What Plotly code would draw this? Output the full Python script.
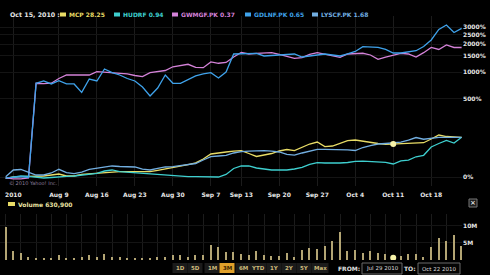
import pandas as pd
import plotly.graph_objects as go

W, H = 490, 275


def px(x):
    return x / W


def py(y):
    return 1 - y / H


# ---------------- data ----------------
holidays = ["2010-09-06"]
days = [d.strftime("%Y-%m-%d") for d in pd.bdate_range("2010-07-29", "2010-10-22")
        if d.strftime("%Y-%m-%d") not in holidays]

tick_days = ["2010-07-30", "2010-08-09", "2010-08-16", "2010-08-23", "2010-08-30", "2010-09-07",
             "2010-09-13", "2010-09-20", "2010-09-27", "2010-10-04", "2010-10-11", "2010-10-18"]
tick_labels = ["2010", "Aug 9", "Aug 16", "Aug 23", "Aug 30", "Sep 7",
               "Sep 13", "Sep 20", "Sep 27", "Oct 4", "Oct 11", "Oct 18"]

pct_ticks = [0, 500, 1000, 1500, 2000, 2500, 3000]
vol_ticks = [5_000_000, 10_000_000]
vol_tick_labels = ["5M", "10M"]

symbols = ["MCP", "HUDRF", "GWMGF.PK", "GDLNF.PK", "LYSCF.PK"]
last_prices = ["28.25", "0.94", "0.37", "0.65", "1.68"]
colors = ["#e8dc66", "#3ecfcf", "#d482d8", "#3fa2ea", "#72aee0"]

mcp_pct = [-3, 0, 0.7, 0.7, 1.6, 2.3, 4.7, 7.1, 2.3, 2.3,
           6.4, 7.9, 8.8, 9.6, 10.9, 12.9, 12.9, 12.9, 12.9, 12.9,
           16.6, 20.1, 24.9, 28.7, 32.9, 38.4, 51.0, 69.4, 74.1, 77.3,
           80.6, 82.7, 71.3, 60.0, 65.5, 71.3, 81.4, 87.7, 82.7, 98.8,
           112.9, 122.8, 101.0, 103.4, 117.8, 129.6, 133.3, 126.5, 120.3, 115.4,
           111.5, 112.9, 112.9, 115.4, 119.3, 119.3, 138.7, 161.6, 152.8, 149.9, 148.2]
hudrf_pct = [-3, 0, 2.3, 1.6, 0, -2.3, -1.1, 0.7, 1.6, 2.3,
             4.2, 7.1, 8.4, 14.7, 17.4, 12.9, 11.4, 10.1, 8.1, 6.6,
             5.2, 4.0, 2.3, 1.4, 0.7, 0.7, 0.5, -0.5, 0, 5.9,
             21.5, 28.7, 28.7, 22.9, 20.1, 17.4, 17.4, 17.4, 20.1, 24.4,
             33.2, 38.8, 37.8, 36.9, 37.8, 39.4, 43.3, 43.6, 42.0, 42.0,
             40.0, 34.7, 44.9, 46.9, 58.9, 64.4, 98.8, 115.4, 130.9, 117.8, 148.2]
gwmgf_pct = [-2, -4, -4, -2, 756, 748, 758, 855, 935, 935,
             935, 935, 1017, 1000, 984, 977, 960, 923, 896, 994,
             1014, 1047, 1149, 1187, 1223, 1130, 1124, 1295, 1254, 1279,
             1463, 1634, 1575, 1595, 1614, 1626, 1556, 1481, 1417, 1439,
             1556, 1626, 1575, 1500, 1453, 1575, 1603, 1603, 1537, 1383,
             1463, 1518, 1595, 1575, 1463, 1626, 1844, 1757, 1958, 1844, 1844]
gdlnf_pct = [-2, 0, 1, -1, 756, 802, 743, 808, 743, 743,
             596, 844, 802, 1088, 991, 935, 855, 802, 686, 540,
             668, 935, 756, 756, 823, 912, 960, 991, 866, 1009,
             1575, 1575, 1575, 1595, 1500, 1518, 1537, 1556, 1575, 1463,
             1500, 1537, 1575, 1537, 1500, 1575, 1674, 1879, 1866, 1853,
             1757, 1614, 1614, 1666, 1706, 1888, 2209, 2836, 3155, 2642, 2916]
lyscf_pct = [0.7, 17.4, 18.8, 10.9, 4.7, 4.7, 9.6, 19.3, 10.4, 7.9,
             12.1, 18.8, 22.1, 25.8, 28.7, 27.2, 26.6, 25.8, 19.6, 17.4,
             22.1, 25.8, 26.6, 29.3, 32.3, 36.2, 47.6, 59.6, 61.8, 64.4,
             73.3, 78.5, 80.6, 82.7, 82.7, 80.6, 77.3, 67.5, 64.8, 73.3,
             81.4, 88.5, 88.5, 88.5, 88.5, 86.4, 83.5, 96.5, 105.7, 112.9,
             115.4, 116.8, 121.8, 133.3, 147.0, 137.6, 144.2, 148.2, 148.2, 148.2, 148.2]
series = [mcp_pct, hudrf_pct, gwmgf_pct, gdlnf_pct, lyscf_pct]

volume = [9_800_000, 2_600_000, 2_100_000, 1_000_000, 700_000, 700_000, 700_000, 1_500_000, 700_000, 700_000,
          1_000_000, 1_500_000, 1_000_000, 1_800_000, 1_000_000, 1_000_000, 700_000, 700_000, 700_000, 700_000,
          1_000_000, 1_000_000, 1_500_000, 1_500_000, 1_000_000, 1_500_000, 1_500_000, 4_400_000, 3_800_000, 2_400_000,
          2_400_000, 1_800_000, 1_500_000, 2_600_000, 1_500_000, 1_200_000, 1_200_000, 2_100_000, 1_000_000, 2_900_000,
          3_400_000, 3_100_000, 4_100_000, 5_600_000, 8_100_000, 2_600_000, 2_900_000, 2_100_000, 2_600_000, 2_000_000,
          1_800_000, 630_900, 1_200_000, 1_800_000, 1_800_000, 1_000_000, 3_900_000, 6_400_000, 5_600_000, 7_400_000, 4_100_000]

hover_date = "Oct 15, 2010"
hover_idx = 51
from_date, to_date = "Jul 29 2010", "Oct 22 2010"
range_buttons = ["1D", "5D", "1M", "3M", "6M", "YTD", "1Y", "2Y", "5Y", "Max"]
active_button = "3M"

# ---------------- figure ----------------
FONT = "DejaVu Sans"
fig = go.Figure()

for sym, pct, col in zip(symbols, series, colors):
    fig.add_trace(go.Scatter(x=days, y=[1 + p / 100 for p in pct], mode="lines", name=sym,
                             line=dict(color=col, width=1.3), xaxis="x", yaxis="y"))

fig.add_trace(go.Scatter(x=[days[hover_idx]], y=[1 + mcp_pct[hover_idx] / 100], mode="markers",
                         marker=dict(color="#f6f2a8", size=6, line=dict(width=0)), xaxis="x", yaxis="y"))

fig.add_trace(go.Bar(x=days, y=volume, marker=dict(color="#b3a574", line=dict(width=0)), width=0.18,
                     xaxis="x2", yaxis="y2"))
fig.add_trace(go.Scatter(x=[days[hover_idx]], y=[volume[hover_idx]], mode="markers",
                         marker=dict(color="#f6f2a8", size=6, line=dict(width=0)), xaxis="x2", yaxis="y2"))

plot_right = 462
grid = "#1b1b1b"
common_x = dict(type="category", categoryorder="array", categoryarray=days,
                domain=[0, px(plot_right)], range=[-0.75, 60.05],
                showgrid=True, gridcolor=grid, gridwidth=1, zeroline=False, showline=False, ticks="")

fig.update_layout(
    width=W, height=H, margin=dict(l=0, r=0, t=0, b=0),
    paper_bgcolor="#000000", plot_bgcolor="#000000", showlegend=False, bargap=0,
    xaxis=dict(**common_x, anchor="y", tickvals=tick_days, ticktext=tick_labels, ticklabelstandoff=4,
               tickfont=dict(family=FONT, size=6, color="#e6e6e6", weight="bold")),
    yaxis=dict(type="log", domain=[py(186), py(16)], range=[-0.0896, 1.602], side="right",
               anchor="x", tickvals=[1 + t / 100 for t in pct_ticks],
               ticktext=[f"{t}%" for t in pct_ticks],
               tickfont=dict(family=FONT, size=6, color="#e6e6e6", weight="bold"),
               showgrid=True, gridcolor="#141414", zeroline=False, showline=False, ticks=""),
    xaxis2=dict(**common_x, anchor="y2", matches="x", showticklabels=False),
    yaxis2=dict(domain=[py(260), py(214)], range=[0, 13_500_000], side="right", anchor="x2",
                tickvals=vol_ticks, ticktext=vol_tick_labels,
                tickfont=dict(family=FONT, size=6, color="#e6e6e6", weight="bold"),
                showgrid=True, gridcolor="#141414", zeroline=False, showline=False, ticks=""),
)

shapes = []
ann = []


def text(x, y, s, color, size=6, bold=True, anchor="left"):
    ann.append(dict(x=px(x), y=py(y), xref="paper", yref="paper", text=s, showarrow=False,
                    xanchor=anchor, yanchor="middle",
                    font=dict(family=FONT, size=size, color=color, weight="bold" if bold else "normal")))


# header legend
text(8, 14.5, f"{hover_date} :", "#e6e6e6", size=6.3)
sq_x = [60, 114, 172, 245, 312]
for sx, sym, lp, col in zip(sq_x, symbols, last_prices, colors):
    shapes.append(dict(type="rect", xref="paper", yref="paper", x0=px(sx), x1=px(sx + 6),
                       y0=py(16.5), y1=py(12.5), fillcolor=col, line=dict(width=0)))
    text(sx + 7, 14.5, f"{sym} {lp}", col)

# copyright
text(7, 183, "© 2010 Yahoo! Inc.", "#8c7f9c", size=5, bold=False)

# volume legend
shapes.append(dict(type="rect", xref="paper", yref="paper", x0=px(8), x1=px(15), y0=py(206), y1=py(202),
                   fillcolor="#e8dc66", line=dict(width=0)))
text(16, 204, f"Volume {volume[hover_idx]:,}", "#e8e0a0")

# close box
shapes.append(dict(type="rect", xref="paper", yref="paper", x0=px(469), x1=px(477), y0=py(207), y1=py(199),
                   fillcolor="#1c1c1c", line=dict(color="#777777", width=1)))
text(473, 203, "×", "#dddddd", size=7, anchor="center")

# range buttons
btn_cx = [180, 195, 212, 227, 243, 258, 274, 289, 304, 320]
for cx, lab in zip(btn_cx, range_buttons):
    w = 15 if lab not in ("YTD", "Max") else 17
    act = lab == active_button
    shapes.append(dict(type="rect", xref="paper", yref="paper", x0=px(cx - w / 2), x1=px(cx + w / 2),
                       y0=py(273), y1=py(263), fillcolor="#e0a02a" if act else "#1b1b1b",
                       line=dict(width=0)))
    text(cx, 268, lab, "#3a2400" if act else "#cdbb7c", size=5.5, anchor="center")

# from / to
text(349, 268, "FROM:", "#e0e0e0", size=6, anchor="center")
shapes.append(dict(type="rect", xref="paper", yref="paper", x0=px(362), x1=px(402), y0=py(274), y1=py(263),
                   fillcolor="#050505", line=dict(color="#6a6a6a", width=1)))
text(382, 268.5, from_date, "#dddddd", size=5.5, bold=False, anchor="center")
text(410, 268, "TO:", "#e0e0e0", size=6, anchor="center")
shapes.append(dict(type="rect", xref="paper", yref="paper", x0=px(418), x1=px(460), y0=py(274), y1=py(263),
                   fillcolor="#050505", line=dict(color="#6a6a6a", width=1)))
text(439, 268.5, to_date, "#dddddd", size=5.5, bold=False, anchor="center")

fig.update_layout(shapes=shapes, annotations=ann)
fig.write_html("out.html")
